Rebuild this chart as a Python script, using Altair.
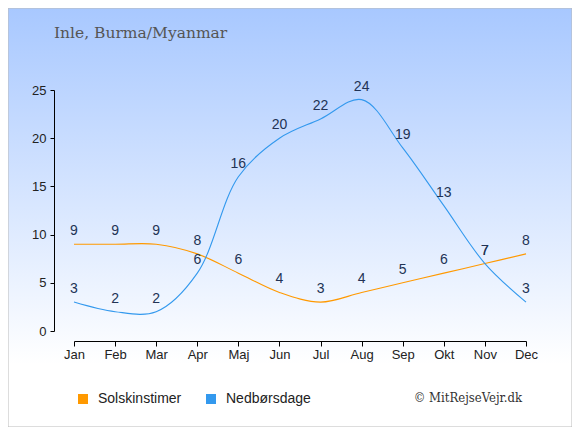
import altair as alt
import pandas as pd

months = ["Jan", "Feb", "Mar", "Apr", "Maj", "Jun", "Jul", "Aug", "Sep", "Okt", "Nov", "Dec"]
sun = [9, 9, 9, 8, 6, 4, 3, 4, 5, 6, 7, 8]
rain = [3, 2, 2, 6, 16, 20, 22, 24, 19, 13, 7, 3]
series_names = ["Solskinstimer", "Nedbørsdage"]
series_colors = ["#ff9900", "#3399ee"]
y_ticks = [0, 5, 10, 15, 20, 25]

rows = []
for m, s, r in zip(months, sun, rain):
    rows.append({"month": m, "series": series_names[0], "value": s})
    rows.append({"month": m, "series": series_names[1], "value": r})
df = pd.DataFrame(rows)

W, H = 452, 241
PL, PT, PR, PB = 66, 82, 46, 96

x_enc = alt.X("month:N", sort=months, scale=alt.Scale(type="point", padding=0),
              axis=alt.Axis(title=None, labelAngle=0, offset=10, domainColor="#000",
                            tickColor="#000", tickSize=5, labelFontSize=13, labelColor="#222",
                            labelPadding=2, labelFont="Liberation Sans", grid=False, zindex=2))
y_enc = alt.Y("value:Q", scale=alt.Scale(domain=[0, 25], nice=False),
              axis=alt.Axis(title=None, values=y_ticks, offset=20, domainColor="#000",
                            tickColor="#000", tickSize=4, labelFontSize=13, labelColor="#222",
                            labelPadding=4, labelFont="Liberation Sans", grid=False, zindex=2))

bg = alt.Chart(pd.DataFrame({"a": [0]})).mark_rect(
    color=alt.LinearGradient(gradient="linear", x1=0, x2=0, y1=0, y2=1,
                             stops=[alt.GradientStop(color="#a8c8ff", offset=0),
                                    alt.GradientStop(color="#ffffff", offset=0.85)]),
    stroke="#bbbbbb", strokeWidth=1
).encode(x=alt.value(-PL), x2=alt.value(W + PR), y=alt.value(-PT), y2=alt.value(H + PB))

title_text = alt.Chart(pd.DataFrame({"t": ["Inle, Burma/Myanmar"]})).mark_text(
    align="left", baseline="alphabetic", font="DejaVu Serif", fontSize=15.5, color="#555"
).encode(x=alt.value(-20), y=alt.value(-52), text="t:N")

copyright_text = alt.Chart(pd.DataFrame({"t": ["© MitRejseVejr.dk"]})).mark_text(
    align="right", baseline="alphabetic", font="DejaVu Serif Condensed", fontSize=13, color="#333"
).encode(x=alt.value(448), y=alt.value(312), text="t:N")

base = alt.Chart(df)
line_layers = []
for name, col in zip(series_names, series_colors):
    line_layers.append(
        base.transform_filter(alt.datum.series == name)
        .mark_line(interpolate="catmull-rom", strokeWidth=1.1, color=col)
        .encode(x=x_enc, y=y_enc)
    )

legend_pts = base.mark_point(filled=True, shape="square", size=0).encode(
    x=alt.X("month:N", sort=months), y="value:Q",
    color=alt.Color("series:N", sort=series_names,
                    scale=alt.Scale(domain=series_names, range=series_colors),
                    legend=alt.Legend(title=None, orient="none", direction="horizontal",
                                      legendX=2, legendY=302, symbolType="square",
                                      symbolSize=100, symbolStrokeWidth=0, symbolOpacity=1,
                                      labelFontSize=14, labelFont="Liberation Sans",
                                      labelColor="#222", columnPadding=22, labelOffset=8)))

labels = base.mark_text(dy=-13, fontSize=14, font="Liberation Sans", color="#223355").encode(
    x=alt.X("month:N", sort=months), y="value:Q", text="value:Q")

chart = alt.layer(bg, title_text, copyright_text, *line_layers, legend_pts, labels).properties(
    width=W, height=H,
    autosize=alt.AutoSizeParams(type="none"),
    padding={"left": PL, "top": PT, "right": PR, "bottom": PB},
).configure_view(stroke=None)

chart.save("out.html", embed_options={"renderer": "svg", "actions": False})
